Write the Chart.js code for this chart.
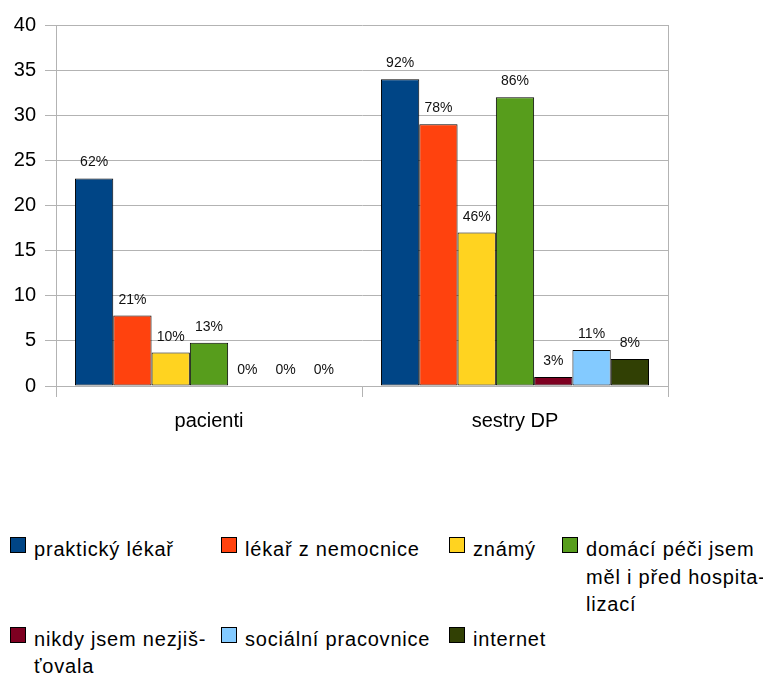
<!DOCTYPE html>
<html>
<head>
<meta charset="utf-8">
<script src="https://cdn.jsdelivr.net/npm/chart.js@4.4.1/dist/chart.umd.min.js"></script>
<style>
body{margin:0;background:#fff;font-family:"Liberation Sans",Arial,sans-serif;}
#wrap{position:relative;width:763px;height:673px;overflow:hidden;}
#chart{position:absolute;left:0;top:0;}
#legend{position:absolute;left:10px;top:536px;display:grid;
  grid-template-columns:211px 228px 113px 220px;row-gap:7px;
  font-size:20px;line-height:27.5px;letter-spacing:0.8px;color:#000;}
#legend .item{display:flex;align-items:flex-start;}
#legend .box{flex:none;width:16px;height:16px;box-sizing:border-box;border:1px solid #000;margin-top:1px;margin-right:8px;}
#legend .txt{hyphens:manual;}
</style>
</head>
<body>
<div id="wrap">
<canvas id="chart" width="763" height="460"></canvas>
<div id="legend"></div>
</div>
<script>
var categories=["pacienti","sestry DP"];
var seriesNames=["praktický lékař","lékař z nemocnice","známý","domácí péči jsem měl i před hospita\u00ADlizací","nikdy jsem nezjiš\u00ADťovala","sociální pracovnice","internet"];
var pacienti=[23,7.8,3.7,4.8,0,0,0];
var sestryDP=[34,29,17,32,1,4,3];
var pacientiPct=["62%","21%","10%","13%","0%","0%","0%"];
var sestryDPPct=["92%","78%","46%","86%","3%","11%","8%"];
var colors=["#004586","#ff420e","#ffd320","#579d1c","#7e0021","#83caff","#314004"];

var gridGray="#b3b3b3";
var font="'Liberation Sans', Arial, sans-serif";

var datasets=[];
for(var i in seriesNames){
    datasets.push({
        label:seriesNames[i],
        data:[pacienti[i],sestryDP[i]],
        pct:[pacientiPct[i],sestryDPPct[i]],
        backgroundColor:colors[i],
        borderColor:"#000",
        borderWidth:function(c){return c.raw===0?0:1;},
        borderSkipped:false,
        categoryPercentage:0.876,
        barPercentage:1
    });
}

// percentage text above every bar
var pctLabels={
    id:"pctLabels",
    afterDatasetsDraw:function(chart){
        var ctx=chart.ctx;
        ctx.save();
        ctx.font="14px "+font;
        ctx.fillStyle="#111";
        ctx.textAlign="center";
        ctx.textBaseline="alphabetic";
        chart.data.datasets.forEach(function(ds,di){
            chart.getDatasetMeta(di).data.forEach(function(bar,j){
                ctx.fillText(ds.pct[j],bar.x,bar.y-12);
            });
        });
        ctx.restore();
    }
};

new Chart(document.getElementById("chart"),{
    type:"bar",
    data:{labels:categories,datasets:datasets},
    options:{
        responsive:false,
        animation:false,
        layout:{padding:{left:0,right:95,top:25,bottom:0}},
        plugins:{legend:{display:false},tooltip:{enabled:false}},
        scales:{
            x:{
                offset:true,
                grid:{
                    offset:true,
                    color:function(c){return c.index===1?"transparent":gridGray;},
                    tickColor:gridGray,
                    tickLength:11,
                    lineWidth:1
                },
                border:{color:gridGray,width:1},
                ticks:{color:"#000",font:{family:font,size:20},padding:12},
                afterFit:function(s){s.height=74;}
            },
            y:{
                min:0,max:40,
                grid:{color:gridGray,tickColor:gridGray,tickLength:11,lineWidth:1},
                border:{color:gridGray,width:1},
                ticks:{stepSize:5,color:"#000",font:{family:font,size:20},padding:9},
                afterFit:function(s){s.width=56;}
            }
        }
    },
    plugins:[pctLabels]
});

// legend built from the same series arrays
var legend=document.getElementById("legend");
seriesNames.forEach(function(name,i){
    var item=document.createElement("div");
    item.className="item";
    var box=document.createElement("span");
    box.className="box";
    box.style.background=colors[i];
    var txt=document.createElement("span");
    txt.className="txt";
    txt.textContent=name;
    item.appendChild(box);
    item.appendChild(txt);
    legend.appendChild(item);
});
</script>
</body>
</html>
